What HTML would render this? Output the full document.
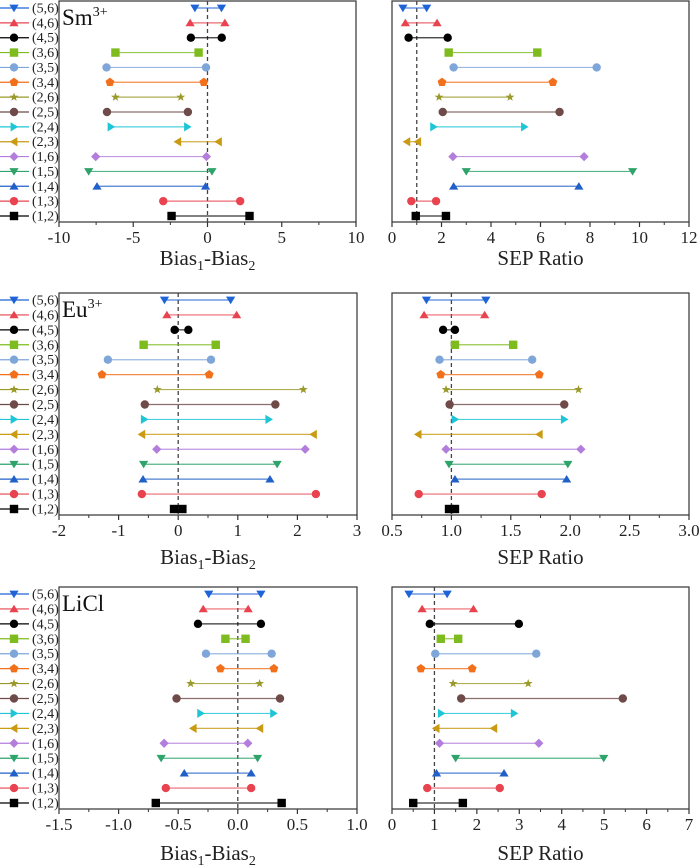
<!DOCTYPE html>
<html><head><meta charset="utf-8"><style>
html,body{margin:0;padding:0;background:#fff;}
svg{display:block;font-family:"Liberation Serif",serif;}
</style></head>
<body>
<svg id="chart" width="700" height="865" viewBox="0 0 700 865" xmlns="http://www.w3.org/2000/svg"></svg>
<script>
const categories = ["(5,6)","(4,6)","(4,5)","(3,6)","(3,5)","(3,4)","(2,6)","(2,5)","(2,4)","(2,3)","(1,6)","(1,5)","(1,4)","(1,3)","(1,2)"];
const colors = ["#1f64d6","#e8434f","#000000","#7dbb1e","#7ea6d8","#f26f1b","#9a9a2a","#6e4a48","#1ec5d6","#c99a12","#b27ddb","#2ea36a","#2060c8","#e8434f","#000000"];
const shapes = ["tdown","tup","circle","square","circle","pent","star","circle","tright","tleft","diamond","tdown","tup","circle","square"];

const smBiasLo = [-0.85,-1.17,-1.12,-6.2,-6.8,-6.57,-6.2,-6.77,-6.5,-2.0,-7.53,-8.0,-7.44,-2.98,-2.42];
const smBiasHi = [0.94,1.17,0.96,-0.6,-0.1,-0.25,-1.8,-1.32,-1.35,0.74,-0.07,0.3,-0.13,2.2,2.83];
const smSepLo = [0.44,0.54,0.67,2.29,2.49,2.02,1.9,2.05,1.68,0.6,2.46,3.0,2.49,0.78,0.96];
const smSepHi = [1.4,1.82,2.25,5.87,8.27,6.5,4.77,6.77,5.35,1.04,7.76,9.72,7.55,1.78,2.18];

const euBiasLo = [-0.23,-0.19,-0.06,-0.58,-1.18,-1.28,-0.35,-0.56,-0.57,-0.61,-0.36,-0.58,-0.59,-0.61,-0.07];
const euBiasHi = [0.88,0.98,0.17,0.63,0.55,0.52,2.1,1.63,1.52,2.27,2.13,1.66,1.54,2.31,0.07];
const euSepLo = [0.79,0.77,0.93,1.03,0.90,0.91,0.955,0.985,1.03,0.72,0.955,0.98,1.03,0.725,0.98];
const euSepHi = [1.29,1.28,1.03,1.52,1.68,1.74,2.07,1.95,1.95,1.74,2.09,1.98,1.97,1.76,1.03];

const liBiasLo = [-0.244,-0.29,-0.334,-0.104,-0.267,-0.146,-0.396,-0.514,-0.312,-0.374,-0.618,-0.643,-0.449,-0.604,-0.688];
const liBiasHi = [0.194,0.087,0.194,0.065,0.284,0.303,0.183,0.354,0.30,0.185,0.084,0.166,0.112,0.112,0.368];
const liSepLo = [0.40,0.71,0.89,1.15,1.02,0.68,1.44,1.63,1.16,1.04,1.12,1.50,1.05,0.83,0.50];
const liSepHi = [1.30,1.92,2.99,1.56,3.40,1.89,3.21,5.44,2.88,2.40,3.46,4.99,2.64,2.54,1.67];

const biasTicksSm = [-10,-5,0,5,10];
const sepTicksSm = [0,2,4,6,8,10,12];
const biasTicksEu = [-2,-1,0,1,2,3];
const sepTicksEu = [0.5,1.0,1.5,2.0,2.5,3.0];
const biasTicksLi = [-1.5,-1.0,-0.5,0.0,0.5,1.0];
const sepTicksLi = [0,1,2,3,4,5,6,7];
const biasTickLabelsSm = ["-10","-5","0","5","10"];
const sepTickLabelsSm = ["0","2","4","6","8","10","12"];
const biasTickLabelsEu = ["-2","-1","0","1","2","3"];
const sepTickLabelsEu = ["0.5","1.0","1.5","2.0","2.5","3.0"];
const biasTickLabelsLi = ["-1.5","-1.0","-0.5","0.0","0.5","1.0"];
const sepTickLabelsLi = ["0","1","2","3","4","5","6","7"];

const NS = "http://www.w3.org/2000/svg";
const svg = document.getElementById("chart");
function mk(tag, attrs, parent){
  const e = document.createElementNS(NS, tag);
  for (const k in attrs) e.setAttribute(k, attrs[k]);
  (parent||svg).appendChild(e);
  return e;
}
function marker(shape, cx, cy, col, parent){
  const r = 4.2;
  let e;
  if (shape==="circle"){ e = mk("circle",{cx:cx,cy:cy,r:r,fill:col},parent); }
  else if (shape==="square"){ e = mk("rect",{x:cx-r,y:cy-r,width:2*r,height:2*r,fill:col},parent); }
  else {
    let pts;
    if (shape==="tdown") pts=[[0,r],[-r*1.1,-r*0.8],[r*1.1,-r*0.8]];
    else if (shape==="tup") pts=[[0,-r],[-r*1.1,r*0.8],[r*1.1,r*0.8]];
    else if (shape==="tright") pts=[[r,0],[-r*0.8,-r*1.1],[-r*0.8,r*1.1]];
    else if (shape==="tleft") pts=[[-r,0],[r*0.8,-r*1.1],[r*0.8,r*1.1]];
    else if (shape==="diamond") pts=[[0,-r*1.1],[r*1.1,0],[0,r*1.1],[-r*1.1,0]];
    else if (shape==="pent"){ pts=[]; for(let i=0;i<5;i++){const a=-Math.PI/2+i*2*Math.PI/5; pts.push([r*1.1*Math.cos(a),r*1.1*Math.sin(a)]);} }
    else if (shape==="star"){ pts=[]; for(let i=0;i<10;i++){const a=-Math.PI/2+i*Math.PI/5; const rr=i%2?r*0.45:r*1.1; pts.push([rr*Math.cos(a),rr*Math.sin(a)]);} }
    e = mk("polygon",{points:pts.map(p=>(cx+p[0]).toFixed(2)+","+(cy+p[1]).toFixed(2)).join(" "),fill:col},parent);
  }
  return e;
}

function panel(name, x0, x1, y0, y1, dmin, dmax, ticks, tickLabels, lo, hi, refVal, xTitle, label, legend, titleOff){
  const g = mk("g",{});
  
  
  const xs = v => x0 + (v - dmin) / (dmax - dmin) * (x1 - x0);
  const rowTop = y0 + 7, rowBot = y1 - 6;
  const ys = i => rowTop + i * (rowBot - rowTop) / (categories.length - 1);
  const fr = mk("rect",{x:x0,y:y0,width:x1-x0,height:y1-y0,fill:"none",stroke:"#333",'stroke-width':1.2},g);
  
  
  const rl = mk("line",{x1:xs(refVal),x2:xs(refVal),y1:y0,y2:y1,stroke:"#444",'stroke-width':1.3,'stroke-dasharray':"4,3"},g);
  
  
  for (let i=0;i<ticks.length;i++){
    const tx = xs(ticks[i]);
    const tk = mk("line",{x1:tx,x2:tx,y1:y1,y2:y1+5,stroke:"#333",'stroke-width':1.2},g);
    
    
    if (i<ticks.length-1){
      const mx = xs((ticks[i]+ticks[i+1])/2);
      mk("line",{x1:mx,x2:mx,y1:y1,y2:y1+3,stroke:"#333",'stroke-width':1},g);
    }
    const t = mk("text",{x:tx,y:y1+21,'text-anchor':"middle",'font-size':"17",fill:"#222"},g);
    t.textContent = tickLabels[i];
    
    
  }
  const tt = mk("text",{x:(x0+x1)/2,y:y1+titleOff,'text-anchor':"middle",'font-size':"21",fill:"#222"},g);
  
  
  if (xTitle==="bias"){
    tt.innerHTML = 'Bias<tspan font-size="14" dy="5">1</tspan><tspan dy="-5">-Bias</tspan><tspan font-size="14" dy="5">2</tspan>';
  } else tt.textContent = "SEP Ratio";
  if (label){
    const lb = mk("text",{x:x0+3,y:y0+24,'font-size':"23",fill:"#111"},g);
    lb.innerHTML = label;
    
    
  }
  for (let i=0;i<categories.length;i++){
    const sg = mk("g",{},g);
    
    
    const y = ys(i);
    const ln = mk("line",{x1:xs(lo[i]),x2:xs(hi[i]),y1:y,y2:y,stroke:colors[i],'stroke-width':1.2,'stroke-opacity':0.8},sg);
    
    
    const m1 = marker(shapes[i], xs(lo[i]), y, colors[i], sg);
    
    
    const m2 = marker(shapes[i], xs(hi[i]), y, colors[i], sg);
    
    
  }
  if (legend){
    const lg = mk("g",{},svg);
    
    
    for (let i=0;i<categories.length;i++){
      const y = ys(i);
      const le = mk("g",{},lg);
      
      
      mk("line",{x1:0,x2:29,y1:y,y2:y,stroke:colors[i],'stroke-width':1.2},le);
      marker(shapes[i], 14, y, colors[i], le);
      const t = mk("text",{x:32,y:y+4.5,'font-size':"14",fill:"#222"},le);
      t.textContent = categories[i];
    }
  }
}

panel("sm-bias-panel",59,356,1,222,-10,10,biasTicksSm,biasTickLabelsSm,smBiasLo,smBiasHi,0,"bias",'Sm<tspan font-size="14" dy="-9">3+</tspan>',true,43);
panel("sm-sep-panel",392,689,1,222,0,12,sepTicksSm,sepTickLabelsSm,smSepLo,smSepHi,1,"sep",null,false,43);
panel("eu-bias-panel",59,357,293,515,-2,3,biasTicksEu,biasTickLabelsEu,euBiasLo,euBiasHi,0,"bias",'Eu<tspan font-size="14" dy="-9">3+</tspan>',true,49);
panel("eu-sep-panel",392,689,293,515,0.5,3.0,sepTicksEu,sepTickLabelsEu,euSepLo,euSepHi,1,"sep",null,false,49);
panel("licl-bias-panel",59,357,587,809,-1.5,1.0,biasTicksLi,biasTickLabelsLi,liBiasLo,liBiasHi,0,"bias",'LiCl',true,51);
panel("licl-sep-panel",392,689,587,809,0,7,sepTicksLi,sepTickLabelsLi,liSepLo,liSepHi,1,"sep",null,false,51);
</script>
</body></html>
